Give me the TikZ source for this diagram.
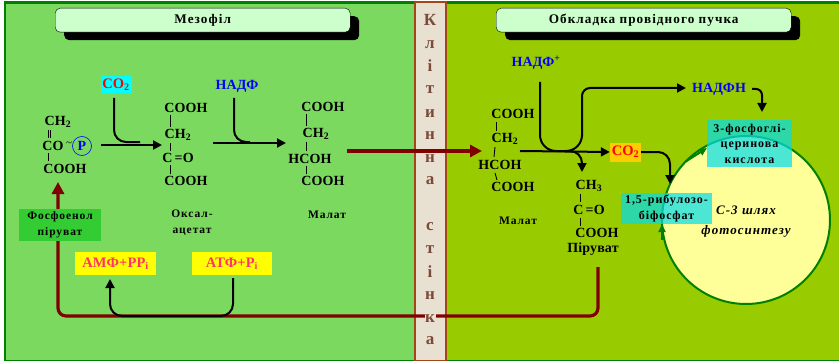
\documentclass[tikz,border=0pt]{standalone}
\usepackage{fontspec}
\setmainfont{Liberation Serif}
\newfontfamily\ancho[LetterSpace=8]{Liberation Serif}
\newfontfamily\angosto[LetterSpace=1]{Liberation Serif}
\usepackage{tikz}
\usetikzlibrary{arrows.meta}
\definecolor{mesogreen}{HTML}{7CD95F}
\definecolor{sheathgreen}{HTML}{99CC00}
\definecolor{wallfill}{HTML}{E8E0D0}
\definecolor{wallline}{HTML}{A5461A}
\definecolor{wallword}{HTML}{7A4A3A}
\definecolor{darkred}{HTML}{800000}
\definecolor{edgegreen}{HTML}{008000}
\definecolor{titlefill}{HTML}{CCFFCC}
\definecolor{atpred}{HTML}{FF3366}
\definecolor{bluetext}{HTML}{0000FF}
\definecolor{redtext}{HTML}{FF0000}
\definecolor{cellteal}{HTML}{00DDEE}
\definecolor{fosgreen}{HTML}{33CC33}
\definecolor{cycleyellow}{HTML}{FFFF99}
\definecolor{coorange}{HTML}{FFCC00}
\definecolor{boxcyan}{HTML}{00FFFF}
\definecolor{boxyellow}{HTML}{FFFF00}
\tikzstyle{texto}=[inner sep=0pt,font=\angosto\bfseries\fontsize{14}{15}\selectfont,text=black]
\tikzstyle{rotulo}=[inner sep=0pt,font=\ancho\bfseries\fontsize{11.5}{16}\selectfont,align=center,text=black]
\tikzstyle{titulo}=[inner sep=0pt,rounded corners=5pt,draw=black,fill=titlefill,minimum width=295pt,minimum height=24pt,font=\ancho\bfseries\fontsize{13.2}{14}\selectfont]
\tikzstyle{sombra}=[inner sep=0pt,rounded corners=5pt,fill=black,minimum width=295pt,minimum height=24pt]
\tikzstyle{letra}=[inner sep=0pt,text=wallword,font=\bfseries\fontsize{17}{18}\selectfont]
\tikzstyle{celda}=[inner sep=0pt,fill=cellteal,fill opacity=.7,text opacity=1,align=center,font=\ancho\bfseries\fontsize{12}{15.5}\selectfont]
\tikzstyle{amarillo}=[inner sep=0pt,fill=boxyellow,text=atpred,minimum height=23pt,font=\angosto\bfseries\fontsize{14.5}{15}\selectfont]
\tikzstyle{reactivo}=[inner sep=0pt,minimum width=31pt,text=redtext,font=\angosto\bfseries\fontsize{14.5}{15}\selectfont]
\tikzstyle{enlace}=[line width=.9pt,black]
\tikzstyle{flecha}=[line width=2pt,black,rounded corners=12pt,-{Triangle[length=9pt,width=9pt]}]
\tikzstyle{linea}=[line width=2pt,black,rounded corners=12pt]
\tikzstyle{camino}=[line width=3.2pt,darkred,rounded corners=8pt,-{Triangle[length=12pt,width=12pt]}]
\tikzstyle{ciclo}=[edgegreen,line width=2pt,-{Triangle[length=8pt,width=7pt]}]

\begin{document}
\begin{tikzpicture}[x=1pt,y=-1pt]
    \useasboundingbox (0,0) rectangle (839,361);
    % panels
    \fill [white] (0,0) rectangle (839,361);
    \fill [mesogreen] (4,2) rectangle (416,360);
    \fill [sheathgreen] (446,2) rectangle (839,360);
    \draw [edgegreen,line width=2.5pt] (5,361) -- (5,2.5) -- (839,2.5);
    \draw [edgegreen,line width=1pt] (5,360.5) -- (839,360.5);
    \node [sombra,anchor=north west] (s1) at (64,16) {};
    \node [titulo,anchor=north west] (t1) at (55,8) {Мезофіл};
    \node [sombra,anchor=north west] (s2) at (505,16) {};
    \node [titulo,anchor=north west] (t2) at (496,8) {Обкладка провідного пучка};
    \draw [wallline,fill=wallfill,line width=2pt] (415,2) rectangle (446,361);

    % long red pathways
    \coordinate (in1) at (347,151);
    \coordinate (in2) at (482,151);
    \coordinate (pir) at (598,267);
    \coordinate (fos) at (58,182);
    \draw [camino] (in1) -- (in2);
    \draw [camino] (pir) -- (598,316) -- (58,316) -- (fos);

    % wall word
    \foreach \name/\ypos/\lit in {a/20/К,b/45/л,c/66/і,d/90/т,e/114/и,f/136/н,g/159/н,h/181/а,i/227/с,j/250/т,k/272/і,l/296/н,n/341/а}
        \node [letra] (w\name) at (430,\ypos) {\lit};
    \fill [wallfill] (425,312) rectangle (436,321);
    \node [letra] (wm) at (430,319) {к};

    % left molecule
    \node [texto] (m1) at (58,122) {CH\textsubscript{2}};
    \node [texto] (m2) at (53,146) {CO};
    \node [texto] (m3) at (65,169) {COOH};
    \node [inner sep=0pt,minimum size=19pt,circle,draw=bluetext,line width=.6pt,text=bluetext,font=\bfseries\fontsize{14}{15}\selectfont] (m4) at (82,146) {P};
    \node [texto,font=\fontsize{11}{12}\selectfont] (m5) at (69,144) {\textasciitilde};
    \draw [enlace] (48,130) -- (48,138);
    \draw [enlace] (50,130) -- (50,138);
    \draw [enlace] (48,153) -- (48,161);

    % oxaloacetate
    \node [texto] (o1) at (186,108) {COOH};
    \node [texto] (o2) at (178,135) {CH\textsubscript{2}};
    \node [texto] (o3) at (178,158) {C\,=O};
    \node [texto] (o4) at (186,181) {COOH};
    \draw [enlace] (170,115) -- (170,127);
    \draw [enlace] (170,143) -- (170,151);
    \draw [enlace] (170,165) -- (170,174);
    \node [rotulo] (o5) at (192,223) {Оксал-\\ацетат};

    % malate
    \node [texto] (a1) at (323,107) {COOH};
    \node [texto] (a2) at (316,134) {CH\textsubscript{2}};
    \node [texto] (a3) at (310,159) {HCOH};
    \node [texto] (a4) at (323,181) {COOH};
    \draw [enlace] (306,114) -- (306,126);
    \draw [enlace] (306,142) -- (306,151);
    \draw [enlace] (306,166) -- (306,174);
    \node [rotulo] (a5) at (327,215) {Малат};

    % reagents
    \node [reactivo,fill=boxcyan,minimum height=17pt] (c1) at (116,85) {CO\textsubscript{2}};
    \node [texto,text=bluetext] (n1) at (237,86) {НАДФ};
    \coordinate (r1) at (101,145);
    \coordinate (r2) at (162,145);
    \coordinate (r3) at (213,143);
    \coordinate (r4) at (286,143);
    \draw [flecha] (r1) -- (r2);
    \draw [flecha] (r3) -- (r4);
    \draw [linea] (114,98) -- (114,142) -- (140,142);
    \draw [linea] (234,98) -- (234,142) -- (250,142);

    % phosphoenolpyruvate and energy
    \node [rotulo,fill=fosgreen,minimum width=82pt,minimum height=32pt] (f1) at (60,225) {Фосфоенол\\піруват};
    \node [amarillo,minimum width=81pt] (e1) at (115.5,263.5) {АМФ+PP\textsubscript{i}};
    \node [amarillo,minimum width=80pt] (e2) at (232,263.5) {АТФ+P\textsubscript{i}};
    \coordinate (e3) at (233,278);
    \coordinate (e4) at (110,279);
    \draw [flecha] (e3) -- (233,316) -- (110,316) -- (e4);

    % right malate
    \node [texto] (b1) at (513,114) {COOH};
    \node [texto] (b2) at (505,139) {CH\textsubscript{2}};
    \node [texto] (b3) at (500,165) {HCOH};
    \node [texto] (b4) at (513,187) {COOH};
    \draw [enlace] (496,122) -- (496,131);
    \draw [enlace] (495,147) -- (494,157);
    \draw [enlace] (495,173) -- (497,180);
    \node [rotulo] (b5) at (518,221) {Малат};

    % pyruvate
    \node [texto] (p1) at (589,186) {CH\textsubscript{3}};
    \node [texto] (p2) at (589,210) {C\,=O};
    \node [texto] (p3) at (597,233) {COOH};
    \node [texto] (p4) at (593,249) {Піруват};
    \draw [enlace] (580,194) -- (580,202);
    \draw [enlace] (580,218) -- (580,226);

    % C3 cycle
    \node [circle,inner sep=0pt,minimum size=168pt,fill=cycleyellow,draw=edgegreen,line width=2pt] (cy) at (746,220) {};
    \draw [ciclo] (685,162) -- (707,148);
    \draw [ciclo] (662,240) -- (662,224);
    \node [celda,minimum width=85pt,minimum height=47pt] (g1) at (749.5,143.5) {3-фосфоглі-\\церинова\\кислота};
    \node [celda,minimum width=91pt,minimum height=31pt] (g2) at (666.5,208.5) {1,5-рибулозо-\\біфосфат};
    \node [inner sep=0pt,align=center,font=\ancho\bfseries\itshape\fontsize{13}{20}\selectfont] (cy1) at (746,222) {С-3 шлях\\фотосинтезу};

    % right reagents
    \node [texto,text=bluetext] (n2) at (536,63) {НАДФ\textsuperscript{+}};
    \node [texto,text=bluetext] (n3) at (719,89) {НАДФН};
    \node [reactivo,fill=coorange,minimum height=19pt] (c2) at (625.5,152) {CO\textsubscript{2}};
    \coordinate (d1) at (520,151);
    \coordinate (d2) at (540,82);
    \coordinate (d3) at (686,88);
    \coordinate (d4) at (572,151);
    \coordinate (d5) at (582,172);
    \draw [flecha] (d1) -- (c2.west);
    \draw [flecha,rounded corners=16pt] (d2) -- (540,151) -- (582,151) -- (582,120) [rounded corners=8pt] -- (582,88) -- (d3);
    \draw [flecha] (d4) -- (582,151) -- (d5);
    \draw [flecha] (c2.east) -- (670,152) -- (670,184);
    \draw [flecha,rounded corners=6pt] (752,89) -- (762,89) -- (762,112);
\end{tikzpicture}
\end{document}
